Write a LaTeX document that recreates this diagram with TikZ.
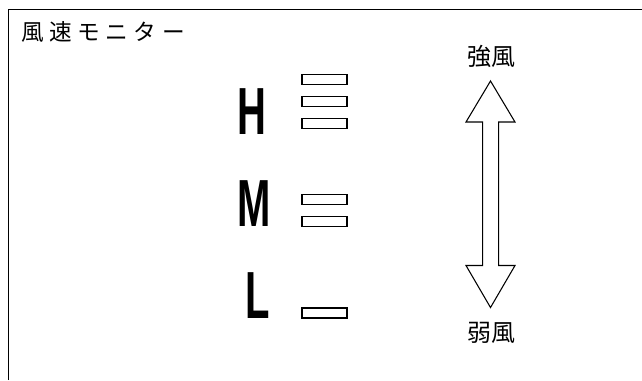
\documentclass[tikz,border=0pt]{standalone}
\usepackage{fontspec}
\setmainfont{Liberation Sans}
\newfontfamily\jpfont{Noto Sans CJK JP}
\newfontfamily\jpfontwide[LetterSpace=24]{Noto Sans CJK JP}
\newfontfamily\levelfont{Liberation Sans Bold}

\tikzset{every picture/.style={line width=0.75pt}}
\tikzset{
	bar/.style={draw, line width=0.9pt, fill=white},
	level/.style={anchor=base, font=\levelfont\fontsize{50}{50}\selectfont, xscale=0.6, inner sep=0pt},
	windlabel/.style={font=\jpfont\fontsize{18}{18}\selectfont, inner sep=0pt}
}

\begin{document}
\begin{tikzpicture}[x=0.75pt,y=0.75pt,yscale=-1,xscale=1]
	\useasboundingbox (0,0) rectangle (642,380);

	%Frame (top and left edges)
	\draw [line width=1.1pt]   (8.5,380) -- (8.5,9.5) -- (642,9.5) ;

	% Text Node
	\node [anchor=west, inner sep=0pt, font=\jpfontwide\fontsize{17}{17}\selectfont] (title) at (21,31.5) {風速モニター};

	% Level letters
	\node [level] (lvH) at (251.5,134) {H};
	\node [level] (lvM) at (254,226) {M};
	\node [level] (lvL) at (258,318) {L};

	%Bars H
	\foreach \y in {79.5,101.5,123.5}
		\draw [bar] (302,\y-5) rectangle (347,\y+5) ;
	%Bars M
	\foreach \y in {199.7,221.7}
		\draw [bar] (302,\y-5) rectangle (347,\y+5) ;
	%Bar L
	\draw [bar] (302,308) rectangle (347,318) ;

	%Double arrow
	\draw [line width=0.8pt]   (490.5,81) -- (515,122) -- (498.7,122) -- (498.7,265.5) -- (515,265.5) -- (490.5,307.5) -- (466,265.5) -- (482.7,265.5) -- (482.7,122) -- (466,122) -- cycle ;

	% Text Node
	\node [windlabel] (strong) at (491,56) {強風};
	% Text Node
	\node [windlabel] (weak) at (491,333) {弱風};

\end{tikzpicture}
\end{document}
